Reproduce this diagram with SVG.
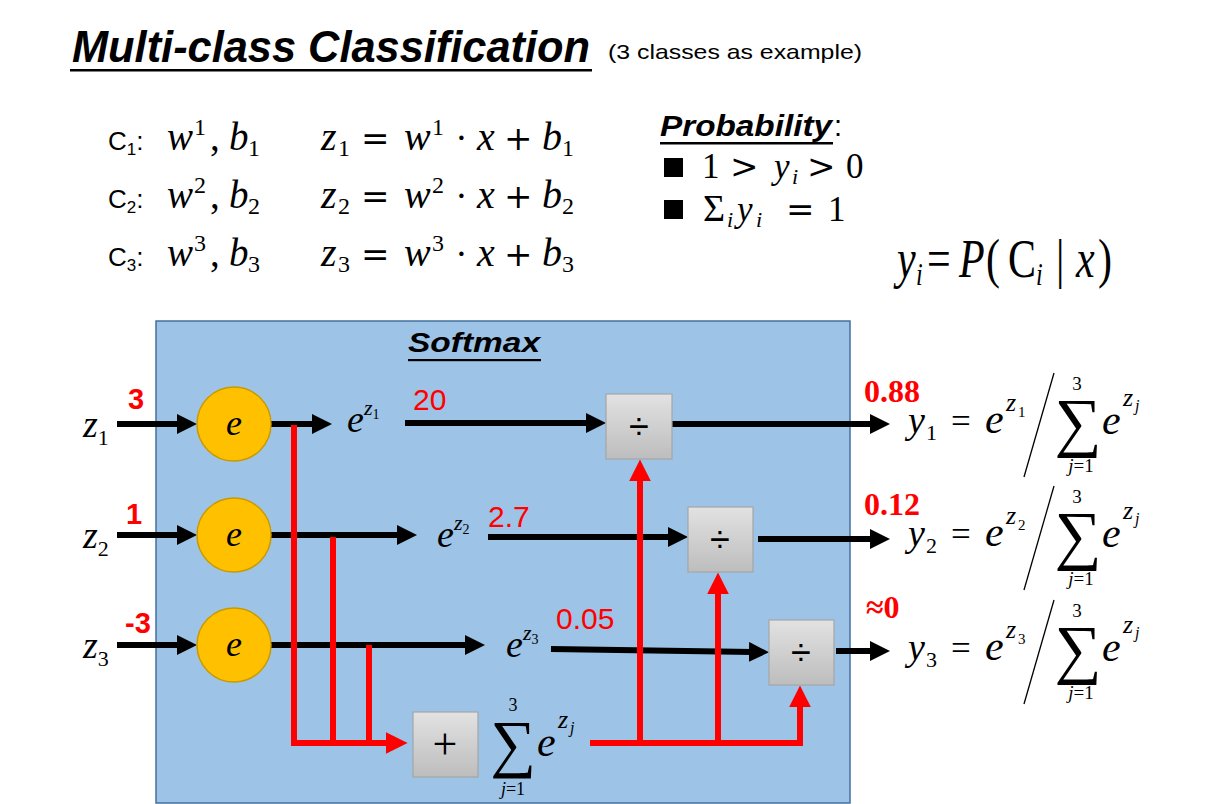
<svg xmlns="http://www.w3.org/2000/svg" width="1211" height="804" viewBox="0 0 1211 804">
<style>
.cal{font-family:"Liberation Sans",Arial,sans-serif;}
.bi{font-weight:bold;font-style:italic;}
.tm{font-family:"Liberation Serif","Times New Roman",serif;}
.op{font-family:"DejaVu Serif",serif;font-style:normal;}
.it{font-style:italic;}
.red{fill:#ff0000;}
.blk{stroke:#000;stroke-width:6;fill:none;}
.rl{stroke:#ff0000;stroke-width:6;fill:none;}
.circ{fill:#ffc000;stroke:#c99a00;stroke-width:1.5;}
.gbox{fill:url(#gg);stroke:#a6a6a6;stroke-width:1.2;}
</style>
<defs>
<linearGradient id="gg" x1="0" y1="0" x2="0" y2="1"><stop offset="0" stop-color="#e2e2e2"/><stop offset="1" stop-color="#bdbdbd"/></linearGradient>
<marker id="ab" viewBox="0 0 10 10" refX="2" refY="5" markerUnits="userSpaceOnUse" markerWidth="20" markerHeight="20" orient="auto"><path d="M0,0 L10,5 L0,10 z" fill="#000"/></marker>
<marker id="ar" viewBox="0 0 10 10" refX="2" refY="5" markerUnits="userSpaceOnUse" markerWidth="22" markerHeight="22" orient="auto"><path d="M0,0 L10,5 L0,10 z" fill="#ff0000"/></marker>
</defs>
<rect width="1211" height="804" fill="#fff"/>

<g id="title">
<text x="72" y="62" class="cal bi" font-size="44" textLength="518" lengthAdjust="spacingAndGlyphs">Multi-class Classification</text>
<rect x="70" y="69" width="522" height="2.5" fill="#000"/>
<text x="608" y="59" class="cal" font-size="21" textLength="254" lengthAdjust="spacingAndGlyphs">(3 classes as example)</text>
</g>

<g id="classes">
<text x="108" y="150" class="cal" font-size="26">C<tspan dy="5" font-size="17">1</tspan><tspan dy="-5">:</tspan></text>
<text x="108" y="208" class="cal" font-size="26">C<tspan dy="5" font-size="17">2</tspan><tspan dy="-5">:</tspan></text>
<text x="108" y="266" class="cal" font-size="26">C<tspan dy="5" font-size="17">3</tspan><tspan dy="-5">:</tspan></text>

<text y="150" class="tm" font-size="39"><tspan x="167" class="it">w</tspan><tspan x="194" dy="-15" font-size="24">1</tspan><tspan x="210" dy="15">,</tspan><tspan x="229" class="it">b</tspan><tspan x="248" dy="6" font-size="24">1</tspan></text>
<text y="208" class="tm" font-size="39"><tspan x="167" class="it">w</tspan><tspan x="194" dy="-15" font-size="24">2</tspan><tspan x="210" dy="15">,</tspan><tspan x="229" class="it">b</tspan><tspan x="248" dy="6" font-size="24">2</tspan></text>
<text y="266" class="tm" font-size="39"><tspan x="167" class="it">w</tspan><tspan x="194" dy="-15" font-size="24">3</tspan><tspan x="210" dy="15">,</tspan><tspan x="229" class="it">b</tspan><tspan x="248" dy="6" font-size="24">3</tspan></text>

<text y="150" class="tm" font-size="40"><tspan x="321" class="it">z</tspan><tspan x="338" dy="6" font-size="24">1</tspan><tspan x="361" dy="-6" class="op" font-size="34">=</tspan><tspan x="404" class="it">w</tspan><tspan x="432" dy="-15" font-size="24">1</tspan><tspan x="456" dy="15" class="op" font-size="34">·</tspan><tspan x="477" class="it">x</tspan><tspan x="504" class="op" font-size="34">+</tspan><tspan x="542" class="it">b</tspan><tspan x="562" dy="6" font-size="24">1</tspan></text>
<text y="208" class="tm" font-size="40"><tspan x="321" class="it">z</tspan><tspan x="338" dy="6" font-size="24">2</tspan><tspan x="361" dy="-6" class="op" font-size="34">=</tspan><tspan x="404" class="it">w</tspan><tspan x="432" dy="-15" font-size="24">2</tspan><tspan x="456" dy="15" class="op" font-size="34">·</tspan><tspan x="477" class="it">x</tspan><tspan x="504" class="op" font-size="34">+</tspan><tspan x="542" class="it">b</tspan><tspan x="562" dy="6" font-size="24">2</tspan></text>
<text y="266" class="tm" font-size="40"><tspan x="321" class="it">z</tspan><tspan x="338" dy="6" font-size="24">3</tspan><tspan x="361" dy="-6" class="op" font-size="34">=</tspan><tspan x="404" class="it">w</tspan><tspan x="432" dy="-15" font-size="24">3</tspan><tspan x="456" dy="15" class="op" font-size="34">·</tspan><tspan x="477" class="it">x</tspan><tspan x="504" class="op" font-size="34">+</tspan><tspan x="542" class="it">b</tspan><tspan x="562" dy="6" font-size="24">3</tspan></text>
</g>

<g id="probability">
<text x="660" y="136" class="cal bi" font-size="29" textLength="172" lengthAdjust="spacingAndGlyphs">Probability</text>
<text x="834" y="136" class="cal" font-size="29">:</text>
<rect x="660" y="142" width="173" height="2.5" fill="#000"/>
<rect x="664" y="158" width="19" height="19" fill="#000"/>
<rect x="664" y="200" width="19" height="19" fill="#000"/>
<text y="178" class="tm" font-size="35"><tspan x="702">1</tspan><tspan x="730" class="op" font-size="34">&gt;</tspan><tspan x="774" class="it">y</tspan><tspan x="792" dy="6" class="it" font-size="22">i</tspan><tspan x="807" dy="-6" class="op" font-size="34">&gt;</tspan><tspan x="846">0</tspan></text>
<text y="221" class="tm" font-size="35"><tspan x="703" font-size="38">Σ</tspan><tspan x="727" dy="6" class="it" font-size="22">i</tspan><tspan x="737" dy="-6" class="it">y</tspan><tspan x="756" dy="6" class="it" font-size="22">i</tspan><tspan x="786" dy="-6" class="op" font-size="34">=</tspan><tspan x="828">1</tspan></text>
<text transform="translate(897,277) scale(1,1.3)" class="tm" font-size="42"><tspan x="0" class="it">y</tspan><tspan x="19" class="it" dy="6" font-size="24">i</tspan><tspan x="30" dy="-6">=</tspan><tspan x="62" class="it">P</tspan><tspan x="89">(</tspan><tspan x="111">C</tspan><tspan x="139" class="it" dy="6" font-size="24">i</tspan><tspan x="159" dy="-6">|</tspan><tspan x="179" class="it">x</tspan><tspan x="201">)</tspan></text>
</g>

<rect id="softmax-box" x="156" y="321" width="694" height="482" fill="#9dc3e6" stroke="#41719c" stroke-width="1.5"/>
<g id="softmax-label">
<text x="408" y="352" class="cal bi" font-size="28" textLength="132" lengthAdjust="spacingAndGlyphs">Softmax</text>
<rect x="408" y="359" width="133" height="2.2" fill="#000"/>
</g>

<g id="connectors">
<path class="blk" d="M117,424 H181" marker-end="url(#ab)"/>
<path class="blk" d="M117,535 H181" marker-end="url(#ab)"/>
<path class="blk" d="M117,645 H181" marker-end="url(#ab)"/>
<path class="blk" d="M271,424 H316" marker-end="url(#ab)"/>
<path class="blk" d="M271,535 H401" marker-end="url(#ab)"/>
<path class="blk" d="M271,645 H469" marker-end="url(#ab)"/>
<path class="blk" d="M405,423 H590" marker-end="url(#ab)"/>
<path class="blk" d="M488,537 H672" marker-end="url(#ab)"/>
<path class="blk" d="M551,649 L753,652" marker-end="url(#ab)"/>
<path class="blk" d="M672,424 H874" marker-end="url(#ab)"/>
<path class="blk" d="M758,539 H874" marker-end="url(#ab)"/>
<path class="blk" d="M836,651 H874" marker-end="url(#ab)"/>
<path class="rl" d="M294,425 V743 H390" marker-end="url(#ar)"/>
<path class="rl" d="M333,537 V743"/>
<path class="rl" d="M369,645 V743"/>
<path class="rl" d="M590,743 H800 V703" marker-end="url(#ar)"/>
<path class="rl" d="M640,743 V477" marker-end="url(#ar)"/>
<path class="rl" d="M718,743 V590" marker-end="url(#ar)"/>
</g>

<g id="inputs">
<text x="83" y="437" class="tm" font-size="38"><tspan class="it">z</tspan><tspan dy="8" font-size="22">1</tspan></text>
<text x="83" y="548" class="tm" font-size="38"><tspan class="it">z</tspan><tspan dy="8" font-size="22">2</tspan></text>
<text x="83" y="658" class="tm" font-size="38"><tspan class="it">z</tspan><tspan dy="8" font-size="22">3</tspan></text>
<text x="128" y="409" class="cal red" font-weight="bold" font-size="29">3</text>
<text x="126" y="524" class="cal red" font-weight="bold" font-size="29">1</text>
<text x="125" y="633" class="cal red" font-weight="bold" font-size="29">-3</text>
</g>

<g id="exp1"><circle class="circ" cx="234" cy="424" r="37"/><text x="234" y="435" text-anchor="middle" class="tm it" font-size="36">e</text></g>
<g id="exp2"><circle class="circ" cx="234" cy="535" r="37"/><text x="234" y="546" text-anchor="middle" class="tm it" font-size="36">e</text></g>
<g id="exp3"><circle class="circ" cx="234" cy="645" r="37"/><text x="234" y="656" text-anchor="middle" class="tm it" font-size="36">e</text></g>

<g id="exp-values">
<text x="347" y="432" class="tm" font-size="38"><tspan class="it">e</tspan><tspan class="it" dy="-17" font-size="22">z</tspan><tspan dy="4" font-size="14">1</tspan></text>
<text x="437" y="547" class="tm" font-size="38"><tspan class="it">e</tspan><tspan class="it" dy="-17" font-size="22">z</tspan><tspan dy="4" font-size="14">2</tspan></text>
<text x="506" y="657" class="tm" font-size="38"><tspan class="it">e</tspan><tspan class="it" dy="-17" font-size="22">z</tspan><tspan dy="4" font-size="14">3</tspan></text>
<text x="413" y="410" class="cal red" font-size="30">20</text>
<text x="488" y="527" class="cal red" font-size="30">2.7</text>
<text x="556" y="629" class="cal red" font-size="30">0.05</text>
</g>

<g id="div1"><rect class="gbox" x="606" y="394" width="66" height="65"/><text x="639" y="439" text-anchor="middle" class="cal" font-size="36">÷</text></g>
<g id="div2"><rect class="gbox" x="688" y="507" width="65" height="65"/><text x="720" y="552" text-anchor="middle" class="cal" font-size="36">÷</text></g>
<g id="div3"><rect class="gbox" x="769" y="620" width="65" height="65"/><text x="801" y="665" text-anchor="middle" class="cal" font-size="36">÷</text></g>

<g id="sum">
<rect class="gbox" x="413" y="712" width="65" height="65"/>
<text x="445" y="759" text-anchor="middle" class="tm" font-size="44">+</text>
<text x="513" y="711" text-anchor="middle" class="tm" font-size="18">3</text>
<text x="513" y="765" text-anchor="middle" class="tm" font-size="64">∑</text>
<text x="513" y="795" text-anchor="middle" class="tm" font-size="18"><tspan class="it">j</tspan>=1</text>
<text y="756" class="tm" font-size="42"><tspan x="537" class="it">e</tspan><tspan x="558" dy="-28" class="it" font-size="26">z</tspan><tspan x="570" dy="5" class="it" font-size="16">j</tspan></text>
</g>

<g id="out1">
<text x="864" y="402" class="tm red" font-weight="bold" font-size="32">0.88</text>
<text y="433" class="tm" font-size="38"><tspan x="908" class="it">y</tspan><tspan x="926" dy="7" font-size="22">1</tspan><tspan x="951" dy="-7" font-size="35">=</tspan><tspan x="985" class="it" font-size="42">e</tspan><tspan x="1006" dy="-22" class="it" font-size="26">z</tspan><tspan x="1018" dy="6" font-size="15">1</tspan></text>
<line x1="1024" y1="477" x2="1054" y2="373" stroke="#000" stroke-width="1.3"/>
<text x="1077" y="390" text-anchor="middle" class="tm" font-size="19">3</text>
<text x="1078" y="444" text-anchor="middle" class="tm" font-size="66">∑</text>
<text x="1081" y="472" text-anchor="middle" class="tm" font-size="19"><tspan class="it">j</tspan>=1</text>
<text y="434" class="tm" font-size="42"><tspan x="1102" class="it">e</tspan><tspan x="1123" dy="-28" class="it" font-size="26">z</tspan><tspan x="1135" dy="5" class="it" font-size="16">j</tspan></text>
</g>
<g id="out2">
<text x="864" y="515" class="tm red" font-weight="bold" font-size="32">0.12</text>
<g transform="translate(0,113)">
<text y="433" class="tm" font-size="38"><tspan x="908" class="it">y</tspan><tspan x="926" dy="7" font-size="22">2</tspan><tspan x="951" dy="-7" font-size="35">=</tspan><tspan x="985" class="it" font-size="42">e</tspan><tspan x="1006" dy="-22" class="it" font-size="26">z</tspan><tspan x="1018" dy="6" font-size="15">2</tspan></text>
<line x1="1024" y1="477" x2="1054" y2="373" stroke="#000" stroke-width="1.3"/>
<text x="1077" y="390" text-anchor="middle" class="tm" font-size="19">3</text>
<text x="1078" y="444" text-anchor="middle" class="tm" font-size="66">∑</text>
<text x="1081" y="472" text-anchor="middle" class="tm" font-size="19"><tspan class="it">j</tspan>=1</text>
<text y="434" class="tm" font-size="42"><tspan x="1102" class="it">e</tspan><tspan x="1123" dy="-28" class="it" font-size="26">z</tspan><tspan x="1135" dy="5" class="it" font-size="16">j</tspan></text>
</g>
</g>
<g id="out3">
<text x="866" y="618" class="tm red" font-weight="bold" font-size="32">≈0</text>
<g transform="translate(0,227)">
<text y="433" class="tm" font-size="38"><tspan x="908" class="it">y</tspan><tspan x="926" dy="7" font-size="22">3</tspan><tspan x="951" dy="-7" font-size="35">=</tspan><tspan x="985" class="it" font-size="42">e</tspan><tspan x="1006" dy="-22" class="it" font-size="26">z</tspan><tspan x="1018" dy="6" font-size="15">3</tspan></text>
<line x1="1024" y1="477" x2="1054" y2="373" stroke="#000" stroke-width="1.3"/>
<text x="1077" y="390" text-anchor="middle" class="tm" font-size="19">3</text>
<text x="1078" y="444" text-anchor="middle" class="tm" font-size="66">∑</text>
<text x="1081" y="472" text-anchor="middle" class="tm" font-size="19"><tspan class="it">j</tspan>=1</text>
<text y="434" class="tm" font-size="42"><tspan x="1102" class="it">e</tspan><tspan x="1123" dy="-28" class="it" font-size="26">z</tspan><tspan x="1135" dy="5" class="it" font-size="16">j</tspan></text>
</g>
</g>
</svg>
